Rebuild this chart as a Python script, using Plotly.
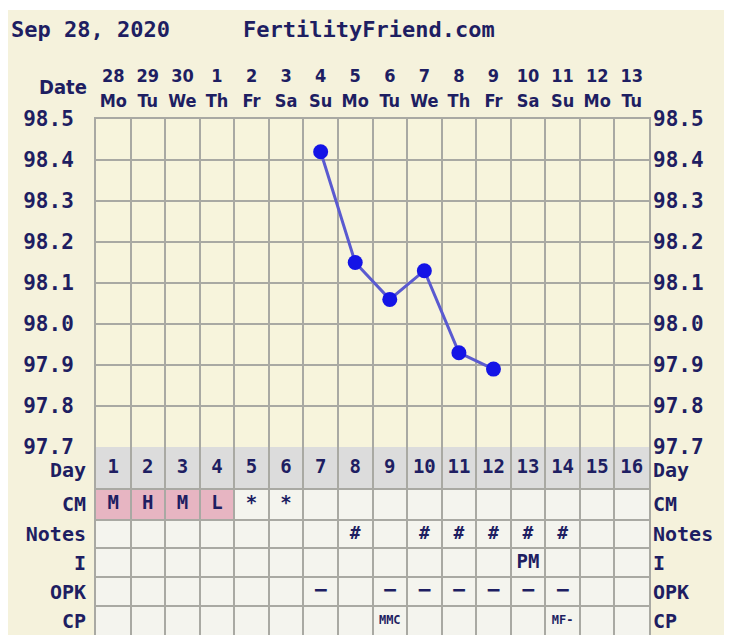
import plotly.graph_objects as go

# ---------------- data ----------------
date_numbers = ["28", "29", "30", "1", "2", "3", "4", "5", "6", "7", "8", "9", "10", "11", "12", "13"]
weekdays = ["Mo", "Tu", "We", "Th", "Fr", "Sa", "Su", "Mo", "Tu", "We", "Th", "Fr", "Sa", "Su", "Mo", "Tu"]
cycle_days = list(range(1, 17))
temps = [None, None, None, None, None, None, 98.42, 98.15, 98.06, 98.13, 97.93, 97.89, None, None, None, None]
cm = ["M", "H", "M", "L", "*", "*", "", "", "", "", "", "", "", "", "", ""]
notes = ["", "", "", "", "", "", "", "#", "", "#", "#", "#", "#", "#", "", ""]
intercourse = ["", "", "", "", "", "", "", "", "", "", "", "", "PM", "", "", ""]
opk = ["", "", "", "", "", "", "−", "", "−", "−", "−", "−", "−", "−", "", ""]
cp = ["", "", "", "", "", "", "", "", "MMC", "", "", "", "", "MF-", "", ""]
row_labels = ["Day", "CM", "Notes", "I", "OPK", "CP"]
temp_ticks = [97.7, 97.8, 97.9, 98.0, 98.1, 98.2, 98.3, 98.4, 98.5]
title_date = "Sep 28, 2020"
site_name = "FertilityFriend.com"

# ---------------- style ----------------
OFF = 8  # page body margin of the html page
W, H = 732 - OFF, 635 - OFF
ML, MR, MT, MB = 96 - OFF, 83, 119 - OFF, 0
PW, PH = W - ML - MR, H - MT - MB
TABLE_PX = 188
split = TABLE_PX / PH
row_bounds = [0, 42, 73, 102, 131, 160, 189]
row_centers = [(row_bounds[i] + row_bounds[i + 1]) / 2 for i in range(6)]
label_pos = [row_centers[0] + 2] + row_centers[1:]

NAVY = "#1e1e62"
GRID = "#a9a9a3"
PANEL = "#f5f2dc"
PLOTBG = "#f7f4dc"
CELL = "#f4f4ee"
DAYROW = "#dcdcdc"
PINK = "#e7b5c2"
MONO = "DejaVu Sans Mono"
COND = "DejaVu Sans Condensed, DejaVu Sans"


def px_x(p):  # screen pixel -> paper coordinate
    return (p - OFF - ML) / PW


def px_y(p):
    return (H - MB - (p - OFF)) / PH


fig = go.Figure()

# temperature line
fig.add_trace(go.Scatter(
    x=cycle_days, y=temps, mode="lines+markers", connectgaps=False,
    line=dict(color="#5a5ad0", width=3),
    marker=dict(size=15, color="#1414e6"),
    xaxis="x", yaxis="y", hoverinfo="skip", showlegend=False,
))
# empty traces so the overlay axes (top dates, right labels) get drawn
for xa, ya in (("x2", "y"), ("x3", "y"), ("x", "y3"), ("x", "y4")):
    fig.add_trace(go.Scatter(x=cycle_days, y=[None] * len(cycle_days), mode="markers",
                             xaxis=xa, yaxis=ya, hoverinfo="skip", showlegend=False))


def text_trace(values, row, size, family=MONO):
    fig.add_trace(go.Scatter(
        x=cycle_days, y=[row_centers[row]] * len(cycle_days), text=values,
        mode="text", textfont=dict(family=family, size=size, color=NAVY, weight="bold"),
        xaxis="x", yaxis="y2", hoverinfo="skip", showlegend=False,
    ))


text_trace([str(d) for d in cycle_days], 0, 19)
text_trace(cm, 1, 19)
text_trace(notes, 2, 18)
text_trace(intercourse, 3, 19)
text_trace(opk, 4, 22)
text_trace(cp, 5, 12)

shapes = []
# white edges around the beige panel
shapes.append(dict(type="rect", xref="paper", yref="paper", x0=px_x(0), x1=px_x(740), y0=px_y(10), y1=px_y(0),
                   fillcolor="white", line_width=0, layer="below"))
shapes.append(dict(type="rect", xref="paper", yref="paper", x0=px_x(728), x1=px_x(740), y0=px_y(640), y1=px_y(0),
                   fillcolor="white", line_width=0, layer="below"))
# table cells
for i, d in enumerate(cycle_days):
    for r in range(6):
        if r == 0:
            col = DAYROW
        elif r == 1 and cm[i] in ("M", "H", "L"):
            col = PINK
        else:
            col = CELL
        shapes.append(dict(type="rect", xref="x", yref="y2", x0=d - 0.5, x1=d + 0.5,
                           y0=row_bounds[r], y1=row_bounds[r + 1], fillcolor=col, line_width=0, layer="below"))

annotations = [
    dict(text=title_date, xref="paper", yref="paper", x=px_x(9), y=px_y(30), xanchor="left", yanchor="middle",
         showarrow=False, font=dict(family=MONO, size=22, color=NAVY, weight="bold")),
    dict(text=site_name, xref="paper", yref="paper", x=px_x(241), y=px_y(30), xanchor="left", yanchor="middle",
         showarrow=False, font=dict(family=MONO, size=22, color=NAVY, weight="bold")),
    dict(text="Date", xref="paper", yref="paper", x=px_x(89), y=px_y(87), xanchor="right", yanchor="middle",
         showarrow=False, font=dict(family=COND, size=20, color=NAVY, weight="bold")),
]

tickfont_big = dict(family=MONO, size=21, color=NAVY, weight="bold")
tickfont_rows = dict(family=MONO, size=20, color=NAVY, weight="bold")
top_font = dict(family=COND, size=18, color=NAVY, weight="bold")
col_edges = [d - 0.5 for d in cycle_days] + [cycle_days[-1] + 0.5]
xr = [0.5, 16.5]

fig.update_layout(
    width=W, height=H, margin=dict(l=ML, r=MR, t=MT, b=MB, pad=0, autoexpand=False),
    paper_bgcolor=PANEL, plot_bgcolor=PLOTBG, template="none",
    shapes=shapes, annotations=annotations, showlegend=False,
    xaxis=dict(range=xr, domain=[0, 1], anchor="y", tickvals=col_edges, showticklabels=False, ticks="",
               showgrid=True, gridcolor=GRID, gridwidth=2, zeroline=False,
               showline=True, linecolor=GRID, linewidth=2, mirror=True, fixedrange=True),
    xaxis2=dict(range=xr, overlaying="x", side="top", anchor="y", tickvals=cycle_days, ticktext=date_numbers,
                ticks="", showgrid=False, zeroline=False, showline=False, tickfont=top_font,
                ticklabelstandoff=32),
    xaxis3=dict(range=xr, overlaying="x", side="top", anchor="y", tickvals=cycle_days, ticktext=weekdays,
                ticks="", showgrid=False, zeroline=False, showline=False, tickfont=top_font,
                ticklabelstandoff=7),
    yaxis=dict(range=[97.7, 98.5], domain=[split, 1], anchor="x", tickvals=temp_ticks,
               ticktext=[f"{v:.1f}" for v in temp_ticks], ticks="", tickfont=tickfont_big,
               showgrid=True, gridcolor=GRID, gridwidth=2, zeroline=False,
               showline=True, linecolor=GRID, linewidth=2, mirror=True, ticklabelstandoff=16),
    yaxis3=dict(range=[97.7, 98.5], overlaying="y", side="right", anchor="x", tickvals=temp_ticks,
                ticktext=[f"{v:.1f}" for v in temp_ticks], ticks="", tickfont=tickfont_big,
                showgrid=False, zeroline=False, showline=False, ticklabelstandoff=3),
    yaxis2=dict(range=[row_bounds[-1], 0], domain=[0, split], anchor="x", tickvals=label_pos,
                ticktext=row_labels, ticks="", tickfont=tickfont_rows, showgrid=False, zeroline=False,
                showline=True, linecolor=GRID, linewidth=2, mirror=True, ticklabelstandoff=4,
                minor=dict(tickvals=row_bounds, showgrid=True, gridcolor=GRID, gridwidth=2, ticks="")),
    yaxis4=dict(range=[row_bounds[-1], 0], overlaying="y2", side="right", anchor="x", tickvals=label_pos,
                ticktext=row_labels, ticks="", tickfont=tickfont_rows, showgrid=False, zeroline=False,
                showline=False, ticklabelstandoff=3),
)

fig.write_html("out.html")
